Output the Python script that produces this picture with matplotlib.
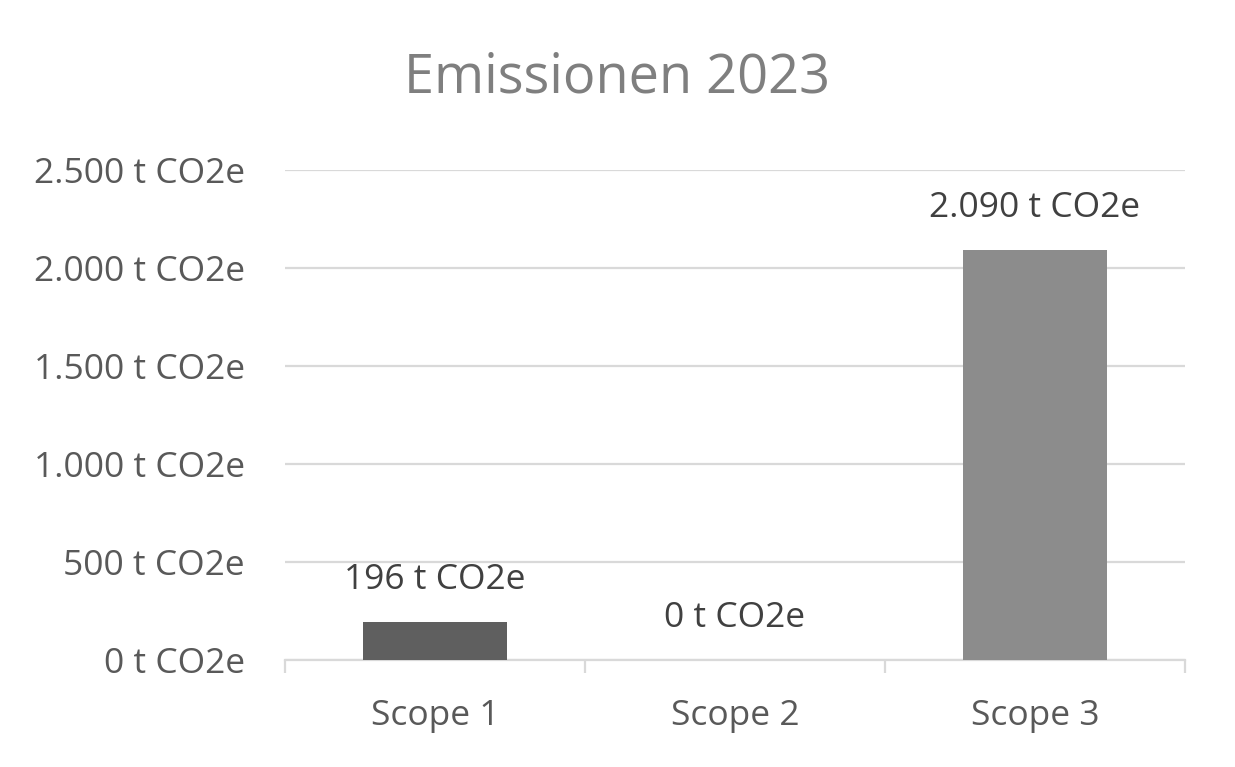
import matplotlib.pyplot as plt
from matplotlib.ticker import FixedLocator, FuncFormatter

categories = ["Scope 1", "Scope 2", "Scope 3"]
values = [196, 0, 2090]
bar_colors = ["#5f5f5f", "#7a7a7a", "#8c8c8c"]
yticks = [0, 500, 1000, 1500, 2000, 2500]

plt.rcParams['font.family'] = ['Open Sans', 'DejaVu Sans']

def fmt_t(v):
	return "{:,.0f} t CO2e".format(v).replace(",", ".")

def main():
	fig = plt.figure(figsize=(12.35, 7.67), dpi=100)
	ax = fig.add_axes([0.2308, 0.1395, 0.7287, 0.6389])

	x = list(range(len(categories)))
	ax.bar(x, values, width=0.477, color=bar_colors, zorder=3)

	# value labels above bars
	for xi, v in zip(x, values):
		ax.annotate(fmt_t(v), (xi, v), xytext=(0, 18), textcoords="offset points",
			ha="center", va="bottom", fontsize=25.5, color="#404040")

	ax.set_xlim(-0.5, 2.5)
	ax.set_ylim(0, 2500)
	ax.set_yticks(yticks)
	ax.yaxis.set_major_formatter(FuncFormatter(lambda v, p: fmt_t(v)))
	ax.set_xticks(x)
	ax.set_xticklabels(categories)
	ax.xaxis.set_minor_locator(FixedLocator([-0.5, 0.5, 1.5, 2.5]))

	ax.grid(axis="y", color="#d9d9d9", linewidth=1.6, zorder=0)
	for s in ["top", "right", "left"]:
		ax.spines[s].set_visible(False)
	ax.spines["bottom"].set_color("#d9d9d9")
	ax.spines["bottom"].set_linewidth(1.6)

	ax.tick_params(axis="y", length=0, pad=29, labelsize=25.5, labelcolor="#595959")
	ax.tick_params(axis="x", which="major", length=0, pad=28, labelsize=25.5, labelcolor="#595959")
	ax.tick_params(axis="x", which="minor", length=9, width=1.6, color="#d9d9d9")

	fig.text(0.5, 0.898, "Emissionen 2023", ha="center", va="center", fontsize=39, color="#7f7f7f")

	fig.savefig("out.png", dpi=100, facecolor="white")

if __name__ == '__main__':
	main()
